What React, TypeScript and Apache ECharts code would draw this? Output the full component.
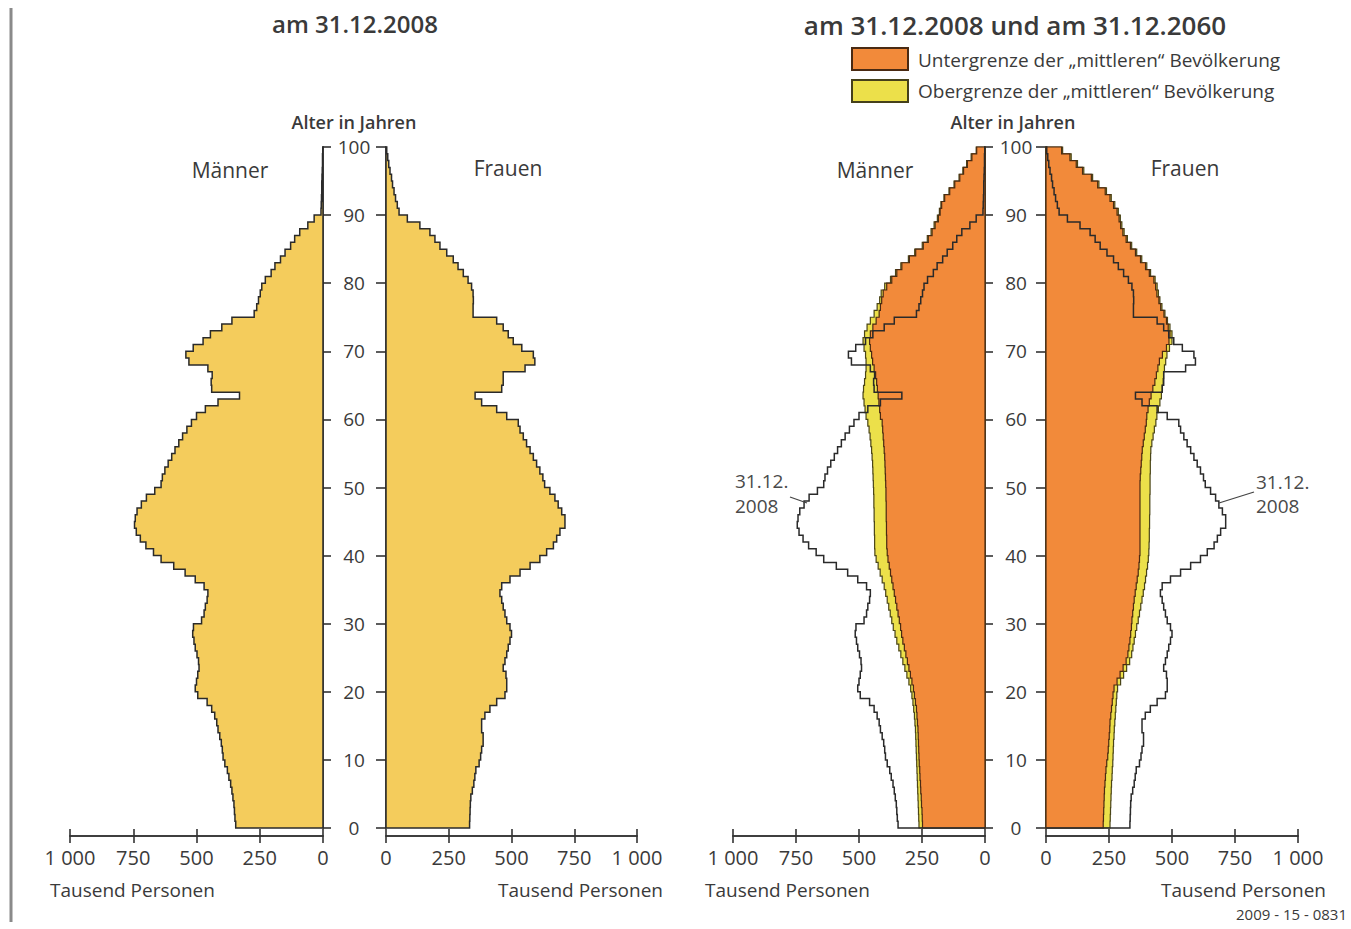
import React, { useEffect, useRef } from "react";
import * as echarts from "echarts";

const FONT = '"Open Sans", "DejaVu Sans", sans-serif';
const TXT = "#3a3a3a";

// x axis ticks (Tausend Personen) and age range
const X_MIN = 0;
const X_MAX = 1000;
const X_STEP = 250;
const AGE_MIN = 0;
const AGE_MAX = 100;
const AGE_STEP = 10;

// Bevölkerung am 31.12.2008, Alter 0..99, Tausend
const men2008 = [
  345, 348, 350, 352, 356, 360, 365, 372, 378, 388,
  395, 398, 402, 408, 415, 420, 428, 440, 458, 495,
  505, 500, 495, 490, 492, 498, 505, 510, 515, 512,
  480, 470, 465, 458, 455, 470, 505, 545, 590, 640,
  670, 700, 722, 738, 745, 742, 735, 718, 698, 665,
  640, 635, 625, 612, 598, 585, 570, 555, 538, 520,
  500, 465, 415, 330, 440, 442, 438, 455, 530, 542,
  513, 474, 445, 400, 360, 272, 262, 255, 248, 242,
  228, 205, 190, 168, 150, 128, 112, 92, 60, 35,
  8, 7, 6, 5, 5, 4, 3, 2, 2, 1,
];
const women2008 = [
  333, 334, 335, 336, 338, 344, 350, 354, 358, 371,
  377, 381, 387, 387, 381, 381, 394, 414, 441, 474,
  481, 481, 478, 467, 474, 481, 487, 494, 500, 494,
  481, 474, 467, 461, 454, 461, 494, 534, 574, 613,
  640, 667, 680, 693, 713, 713, 700, 686, 673, 653,
  632, 625, 613, 600, 587, 574, 560, 547, 534, 527,
  481, 441, 381, 355, 461, 467, 467, 554, 593, 587,
  541, 507, 487, 467, 441, 347, 347, 348, 347, 341,
  327, 308, 287, 268, 242, 215, 195, 175, 135, 85,
  52, 45, 38, 32, 26, 22, 16, 11, 7, 3,
];
// 31.12.2060 – Untergrenze der "mittleren" Bevölkerung
const men2060Lower = [
  248, 249, 250, 252, 253, 255, 256, 258, 259, 261,
  262, 263, 264, 265, 266, 268, 270, 272, 276, 280,
  284, 290, 296, 302, 308, 314, 320, 326, 331, 335,
  340, 345, 350, 355, 360, 365, 370, 375, 380, 385,
  388, 390, 390, 391, 391, 392, 392, 392, 393, 393,
  394, 395, 396, 397, 398, 400, 402, 404, 406, 408,
  415, 418, 421, 424, 427, 430, 434, 440, 446, 450,
  455, 458, 455, 445, 432, 420, 415, 410, 404, 390,
  370, 350, 330, 300, 275, 245, 225, 210, 198, 185,
  178, 172, 160, 140, 120, 100, 85, 70, 52, 33,
];
const women2060Lower = [
  227, 228, 229, 230, 231, 232, 234, 236, 238, 241,
  245, 247, 249, 251, 253, 254, 257, 260, 263, 266,
  270, 282, 294, 306, 318, 325, 329, 333, 336, 339,
  341, 344, 347, 350, 354, 358, 362, 366, 369, 371,
  373, 373, 373, 373, 373, 373, 373, 373, 373, 373,
  373, 374, 376, 378, 380, 382, 386, 390, 394, 398,
  400, 405, 410, 417, 424, 432, 438, 444, 450, 462,
  478, 488, 492, 485, 478, 468, 455, 448, 440, 435,
  428, 410, 395, 375, 355, 335, 318, 305, 296, 290,
  282, 268, 254, 235, 205, 180, 145, 120, 95, 62,
];
// 31.12.2060 – Obergrenze der "mittleren" Bevölkerung
const men2060Upper = [
  262, 263, 264, 265, 266, 267, 268, 269, 270, 271,
  272, 273, 274, 275, 276, 278, 280, 283, 286, 290,
  295, 302, 310, 318, 326, 334, 342, 350, 357, 364,
  370, 376, 382, 388, 394, 400, 408, 416, 424, 432,
  437, 438, 438, 439, 439, 440, 440, 441, 441, 442,
  443, 444, 445, 446, 448, 450, 453, 456, 460, 465,
  472, 476, 480, 484, 482, 478, 474, 472, 472, 474,
  480, 484, 478, 468, 455, 440, 428, 418, 412, 398,
  375, 355, 334, 304, 279, 249, 229, 214, 202, 189,
  181, 175, 163, 143, 123, 103, 88, 73, 55, 35,
];
const women2060Upper = [
  254, 255, 256, 257, 258, 259, 260, 262, 263, 265,
  266, 267, 268, 270, 271, 273, 275, 277, 279, 281,
  284, 296, 308, 320, 332, 340, 345, 350, 355, 360,
  366, 371, 376, 381, 386, 391, 395, 399, 403, 406,
  408, 409, 410, 410, 411, 411, 412, 412, 412, 413,
  413, 413, 414, 414, 415, 416, 420, 425, 430, 436,
  440, 446, 452, 458, 462, 465, 467, 470, 475, 480,
  490, 500, 500, 492, 482, 472, 460, 452, 446, 441,
  433, 415, 400, 380, 360, 340, 323, 310, 301, 295,
  287, 273, 259, 240, 210, 185, 150, 125, 100, 66,
];

const C_2008 = "#F4CC5C";
const C_LOWER = "#F28A3A";
const C_UPPER = "#ECE04A";

const GRIDS = [
  { left: 70, width: 253, inverse: true, side: "right" },
  { left: 386, width: 251, inverse: false, side: "left" },
  { left: 733, width: 252, inverse: true, side: "right" },
  { left: 1046, width: 252, inverse: false, side: "left" },
];
const GRID_TOP = 147;
const GRID_HEIGHT = 681;

function xLabel(v: number) {
  return v === 1000 ? "1 000" : String(v);
}

function stepPoints(values: number[], api: any) {
  const pts: number[][] = [api.coord([0, 0])];
  values.forEach((v, a) => {
    pts.push(api.coord([v, a]));
    pts.push(api.coord([v, a + 1]));
  });
  pts.push(api.coord([0, values.length]));
  return pts;
}

function pyramidSeries(
  values: number[],
  g: number,
  fill: string | null,
  stroke: string,
  lw: number,
  z: number
) {
  return {
    type: "custom",
    coordinateSystem: "cartesian2d",
    xAxisIndex: g * 2,
    yAxisIndex: g,
    data: [[0, 0]],
    clip: false,
    silent: true,
    z,
    renderItem: (_params: any, api: any) => {
      const pts = stepPoints(values, api);
      if (fill) {
        return {
          type: "polygon",
          shape: { points: pts },
          style: { fill, stroke, lineWidth: lw, lineJoin: "miter" },
        };
      }
      return {
        type: "polyline",
        shape: { points: pts },
        style: { fill: "none", stroke, lineWidth: lw, lineJoin: "miter" },
      };
    },
  };
}

function txt(
  text: string,
  x: number,
  y: number,
  size: number,
  align: string = "center",
  weight: string | number = "normal",
  color: string = TXT
) {
  return {
    type: "text",
    x,
    y,
    silent: true,
    style: {
      text,
      fill: color,
      fontSize: size,
      fontFamily: FONT,
      fontWeight: weight,
      align,
      textAlign: align,
      verticalAlign: "middle",
      textVerticalAlign: "middle",
    },
  };
}

export default function App() {
  const ref = useRef<HTMLDivElement>(null);

  useEffect(() => {
    if (!ref.current) return;
    const chart = echarts.init(ref.current, undefined, { renderer: "svg" });
    const axisColor = "#333";
    const lineStyle = { color: axisColor, width: 1.6 };

    const grid = GRIDS.map((g) => ({
      left: g.left,
      top: GRID_TOP,
      width: g.width,
      height: GRID_HEIGHT,
      containLabel: false,
    }));

    const xAxis: any[] = [];
    GRIDS.forEach((g, i) => {
      const base = {
        type: "value",
        gridIndex: i,
        min: X_MIN,
        max: X_MAX,
        interval: X_STEP,
        inverse: g.inverse,
        position: "bottom",
        offset: 8,
        splitLine: { show: false },
        axisLine: { show: true, onZero: false, lineStyle },
      };
      xAxis.push({
        ...base,
        axisTick: { show: true, inside: true, length: 7, lineStyle },
        axisLabel: { show: false },
      });
      xAxis.push({
        ...base,
        axisTick: { show: true, inside: false, length: 7, lineStyle },
        axisLabel: {
          show: true,
          margin: 11,
          fontSize: 20,
          color: TXT,
          fontFamily: FONT,
          formatter: xLabel,
        },
      });
    });

    const yAxis = GRIDS.map((g, i) => ({
      type: "value",
      gridIndex: i,
      min: AGE_MIN,
      max: AGE_MAX,
      interval: AGE_STEP,
      position: g.side,
      splitLine: { show: false },
      axisLine: { show: true, onZero: false, lineStyle },
      axisTick: { show: true, length: g.side === "right" ? 8 : 10, lineStyle },
      axisLabel: {
        show: g.side === "left",
        align: "center",
        margin: i === 1 ? 32 : 30,
        fontSize: 19,
        color: TXT,
        fontFamily: FONT,
      },
    }));

    const outline = "#2a2a2a";
    const series = [
      pyramidSeries(men2008, 0, C_2008, outline, 1.5, 2),
      pyramidSeries(women2008, 1, C_2008, outline, 1.5, 2),
      pyramidSeries(men2060Upper, 2, C_UPPER, "#4a4518", 1.2, 2),
      pyramidSeries(men2060Lower, 2, C_LOWER, "#4a2a12", 1.2, 3),
      pyramidSeries(men2008, 2, null, outline, 1.5, 4),
      pyramidSeries(women2060Upper, 3, C_UPPER, "#4a4518", 1.2, 2),
      pyramidSeries(women2060Lower, 3, C_LOWER, "#4a2a12", 1.2, 3),
      pyramidSeries(women2008, 3, null, outline, 1.5, 4),
    ];

    const graphic: any[] = [
      {
        type: "line",
        silent: true,
        shape: { x1: 11, y1: 8, x2: 11, y2: 922 },
        style: { stroke: "#8a8a8a", lineWidth: 3 },
      },
      txt("am 31.12.2008", 355, 23, 24, "center", 600),
      txt("am 31.12.2008 und am 31.12.2060", 1015, 25, 26, "center", 600),
      {
        type: "rect",
        silent: true,
        shape: { x: 852, y: 48, width: 56, height: 22 },
        style: { fill: C_LOWER, stroke: "#4a2a12", lineWidth: 2 },
      },
      {
        type: "rect",
        silent: true,
        shape: { x: 852, y: 80, width: 56, height: 22 },
        style: { fill: C_UPPER, stroke: "#45401a", lineWidth: 2 },
      },
      txt("Untergrenze der \u201Emittleren\u201C Bevölkerung", 918, 60, 19, "left"),
      txt("Obergrenze der \u201Emittleren\u201C Bevölkerung", 918, 91, 19, "left"),
      txt("Alter in Jahren", 354, 122, 18, "center", 600),
      txt("Alter in Jahren", 1013, 122, 18, "center", 600),
      txt("Männer", 230, 170, 21),
      txt("Frauen", 508, 168, 21),
      txt("Männer", 875, 170, 21),
      txt("Frauen", 1185, 168, 21),
      txt("Tausend Personen", 50, 890, 19, "left"),
      txt("Tausend Personen", 663, 890, 19, "right"),
      txt("Tausend Personen", 705, 890, 19, "left"),
      txt("Tausend Personen", 1326, 890, 19, "right"),
      txt("2009 - 15 - 0831", 1347, 914, 15, "right"),
      txt("31.12.", 735, 481, 19, "left", "normal", "#4a4a4a"),
      txt("2008", 735, 506, 19, "left", "normal", "#4a4a4a"),
      txt("31.12.", 1256, 482, 19, "left", "normal", "#4a4a4a"),
      txt("2008", 1256, 506, 19, "left", "normal", "#4a4a4a"),
      {
        type: "line",
        silent: true,
        z: 10,
        shape: { x1: 790, y1: 497, x2: 807, y2: 503 },
        style: { stroke: "#444", lineWidth: 1.3 },
      },
      {
        type: "line",
        silent: true,
        z: 10,
        shape: { x1: 1254, y1: 492, x2: 1219, y2: 503 },
        style: { stroke: "#444", lineWidth: 1.3 },
      },
    ];

    chart.setOption({
      animation: false,
      backgroundColor: "#ffffff",
      grid,
      xAxis,
      yAxis,
      series,
      graphic,
    });

    return () => chart.dispose();
  }, []);

  return (
    <div
      ref={ref}
      style={{
        position: "fixed",
        left: 0,
        top: 0,
        width: 1351,
        height: 929,
        background: "#fff",
      }}
    />
  );
}
